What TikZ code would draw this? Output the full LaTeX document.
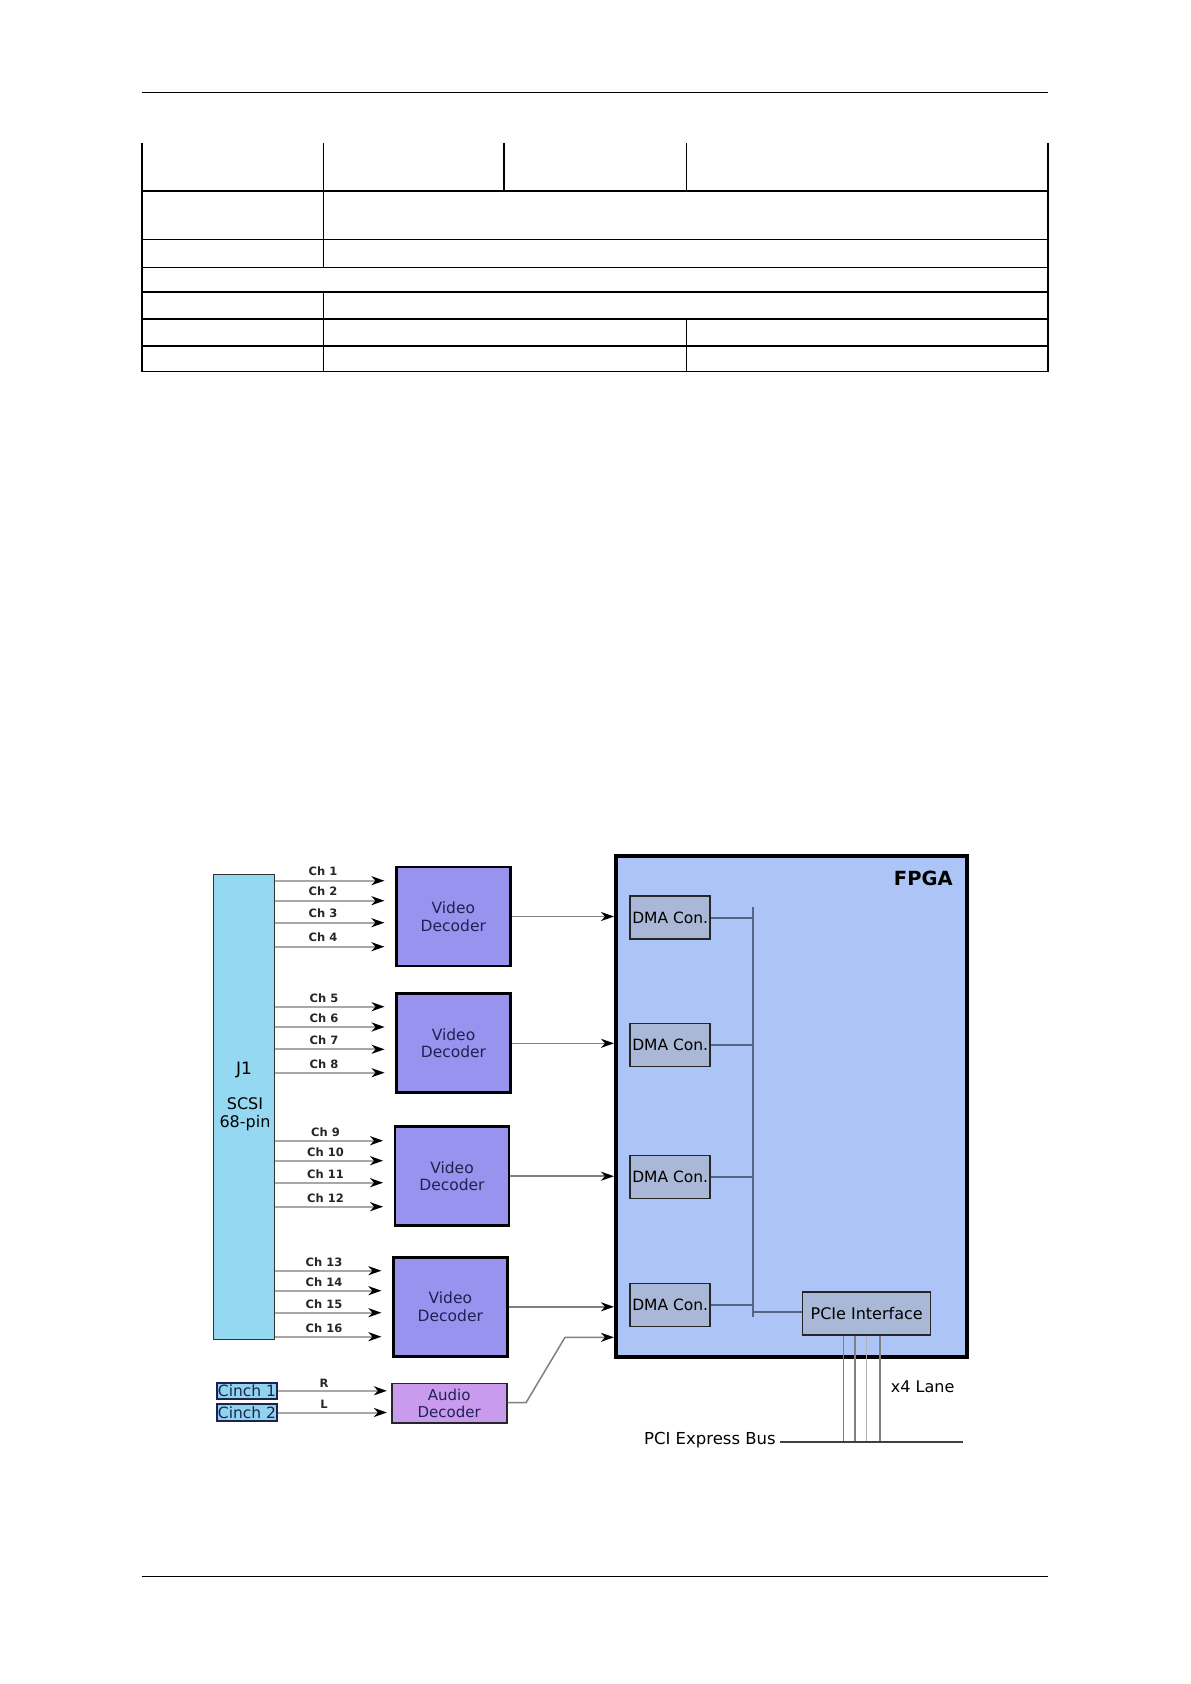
\documentclass[tikz,border=0pt]{standalone}
\usepackage{fontspec}
\setmainfont{DejaVu Sans}
\usetikzlibrary{arrows.meta,calc}
\definecolor{j1c}{HTML}{94D8F2}
\definecolor{vdc}{HTML}{9893EE}
\definecolor{adc}{HTML}{C99BEF}
\definecolor{fpgac}{HTML}{ADC5F6}
\definecolor{dmac}{HTML}{A9B8D6}
\definecolor{busc}{HTML}{55657F}
\definecolor{navy}{HTML}{1E2250}
\definecolor{chgray}{HTML}{A8A8A8}
\definecolor{cinc}{HTML}{8FD3EE}
\tikzset{
  tbl/.style={line width=1.6, black},
  vd/.style={draw=black, line width=2.8, fill=vdc, minimum width=114, minimum height=99, inner sep=0, align=center, text=navy, font=\fontsize{15.5}{17.5}\selectfont},
  ad/.style={draw=black!85, line width=1.6, fill=adc, minimum width=115, minimum height=39.5, inner sep=0, align=center, text=navy, font=\fontsize{15}{17}\selectfont},
  dma/.style={draw=black!85, line width=1.5, fill=dmac, minimum width=80, minimum height=43, inner sep=0, font=\fontsize{15.5}{17}\selectfont},
  cinch/.style={draw=navy, line width=2, fill=cinc, minimum width=60, minimum height=16.3, inner sep=0, text=navy, font=\fontsize{15.5}{16}\selectfont},
  chlab/.style={font=\bfseries\fontsize{11.5}{13}\selectfont, text=black!85, inner sep=0},
  txt/.style={inner sep=0, font=\fontsize{16}{18}\selectfont},
  ch/.style={draw=chgray, line width=2, -{Stealth[length=13pt, width=9pt, inset=4pt, color=black]}, shorten >=10.5},
  aud/.style={draw=chgray, line width=2, -{Stealth[length=13pt, width=9pt, inset=4pt, color=black]}, shorten >=4},
  tofpga/.style={draw=black!50, line width=1.5, -{Stealth[length=13pt, width=9pt, inset=4pt, color=black]}},
  bus/.style={draw=busc, line width=1.7},
  lane/.style={draw=black!50, line width=1.3},
}
\begin{document}
\begin{tikzpicture}[x=1pt,y=-1pt]
\useasboundingbox (0,0) rectangle (1191,1684);
% page rules
\draw[tbl, line width=1.5] (141.8,92.4) -- (1048.2,92.4);
\draw[tbl, line width=1.5] (141.8,1576.6) -- (1048.2,1576.6);
% table
\foreach \y in {191.2,239.5,267.4,292.1,319.0,345.8,371.6}
  \draw[tbl] (141.8,\y) -- (1048.2,\y);
\draw[tbl] (141.8,142.8) -- (141.8,371.6);
\draw[tbl] (1048.2,142.8) -- (1048.2,371.6);
\draw[tbl] (323.3,142.8) -- (323.3,267.4);
\draw[tbl] (323.3,292.1) -- (323.3,371.6);
\draw[tbl] (503.7,142.8) -- (503.7,191.2);
\draw[tbl] (686.3,142.8) -- (686.3,191.2);
\draw[tbl] (686.3,319.0) -- (686.3,371.6);

% FPGA
\node[draw=black, line width=4, fill=fpgac, minimum width=351, minimum height=501, inner sep=0] (FPGA) at (791.5,1106) {};
\node[inner sep=0, font=\bfseries\fontsize{19.5}{21}\selectfont] (fpgatxt) at (923.3,878.3) {FPGA};

% J1
\node[draw=black!80, line width=1.5, fill=j1c, minimum width=61, minimum height=465, inner sep=0] (J1) at (243.75,1107.2) {};
\node[txt, font=\fontsize{17}{19}\selectfont] (j1txt) at (244,1069.5) {J1};
\node[txt, align=center, font=\fontsize{16}{18.5}\selectfont] (scsi) at (245,1114) {SCSI\\68-pin};

% video decoders
\node[vd] (VD1) at (453.3,916.5) {Video\\Decoder};
\node[vd] (VD2) at (453.5,1043.3) {Video\\Decoder};
\node[vd] (VD3) at (452,1176.2) {Video\\Decoder};
\node[vd] (VD4) at (450.3,1306.8) {Video\\Decoder};
\node[ad] (AD) at (449.2,1403.3) {Audio\\Decoder};

% cinch
\node[cinch] (C1) at (247,1390.8) {Cinch 1};
\node[cinch] (C2) at (247,1412.5) {Cinch 2};

% channels
\foreach \n/\y/\v/\lx in {1/880.7/VD1/323,2/900.7/VD1/323,3/922.7/VD1/323,4/946.7/VD1/323,
                          5/1006.7/VD2/324,6/1027/VD2/324,7/1049.3/VD2/324,8/1072.7/VD2/324,
                          9/1140.7/VD3/325.5,10/1160.7/VD3/325.5,11/1182.7/VD3/325.5,12/1206.7/VD3/325.5,
                          13/1270.7/VD4/324,14/1290.7/VD4/324,15/1312.7/VD4/324,16/1336.7/VD4/324}{
  \draw[ch] (J1.east |- 0,\y) -- (\v.west |- 0,\y);
  \node[chlab] (ch\n) at (\lx,\y-9) {Ch \n};
}
\draw[aud] (C1.east) -- (AD.west |- C1.east);
\draw[aud] (C2.east) -- (AD.west |- C2.east);
\node[chlab] (rlab) at (324,1383) {R};
\node[chlab] (llab) at (324,1404.5) {L};

% DMA
\node[dma] (DMA1) at (670.2,917.7) {DMA Con.};
\node[dma] (DMA2) at (670.2,1045) {DMA Con.};
\node[dma] (DMA3) at (670.2,1177.2) {DMA Con.};
\node[dma] (DMA4) at (670.2,1305) {DMA Con.};
\node[dma, minimum width=128, font=\fontsize{16}{17}\selectfont] (PCIe) at (866.7,1313.3) {PCIe Interface};

% decoder to FPGA
\draw[tofpga] (VD1.east) -- (FPGA.west |- VD1.east);
\draw[tofpga] (VD2.east) -- (FPGA.west |- VD2.east);
\draw[tofpga] (VD3.east) -- (FPGA.west |- VD3.east);
\draw[tofpga] (VD4.east) -- (FPGA.west |- VD4.east);
\coordinate (a1) at (526,1402.7);
\coordinate (a2) at (565,1337.3);
\draw[tofpga] (AD.east |- a1) -- (a1) -- (a2) -- (FPGA.west |- a2);

% internal bus
\coordinate (busTop) at (753.3,906.7);
\coordinate (busBot) at (753.3,1316.7);
\draw[bus] (busTop) -- (busBot);
\draw[bus] (DMA1.east) -- (DMA1.east -| busTop);
\draw[bus] (DMA2.east) -- (DMA2.east -| busTop);
\draw[bus] (DMA3.east) -- (DMA3.east -| busTop);
\draw[bus] (DMA4.east) -- (DMA4.east -| busTop);
\draw[bus] (PCIe.west |- 0,1312) -- (busTop |- 0,1312);

% lanes and PCI Express bus
\coordinate (busL) at (780,1442);
\coordinate (busR) at (963,1442);
\coordinate (l1) at ($(PCIe.south)+(-23.4,0)$);
\coordinate (l2) at ($(PCIe.south)+(-11.7,0)$);
\coordinate (l3) at ($(PCIe.south)+(0,0)$);
\coordinate (l4) at ($(PCIe.south)+(13.3,0)$);
\draw[lane] (l1) -- (l1 |- busL);
\draw[lane] (l2) -- (l2 |- busL);
\draw[lane, draw=black!30] (l3) -- (l3 |- busL);
\draw[lane] (l4) -- (l4 |- busL);
\draw[draw=black!75, line width=2.2] (busL) -- (busR);
\node[txt, anchor=east, font=\fontsize{16.5}{18}\selectfont] (pcitxt) at (776,1440) {PCI Express Bus};
\node[txt] (lanetxt) at (922.7,1386.7) {x4 Lane};
\end{tikzpicture}
\end{document}
